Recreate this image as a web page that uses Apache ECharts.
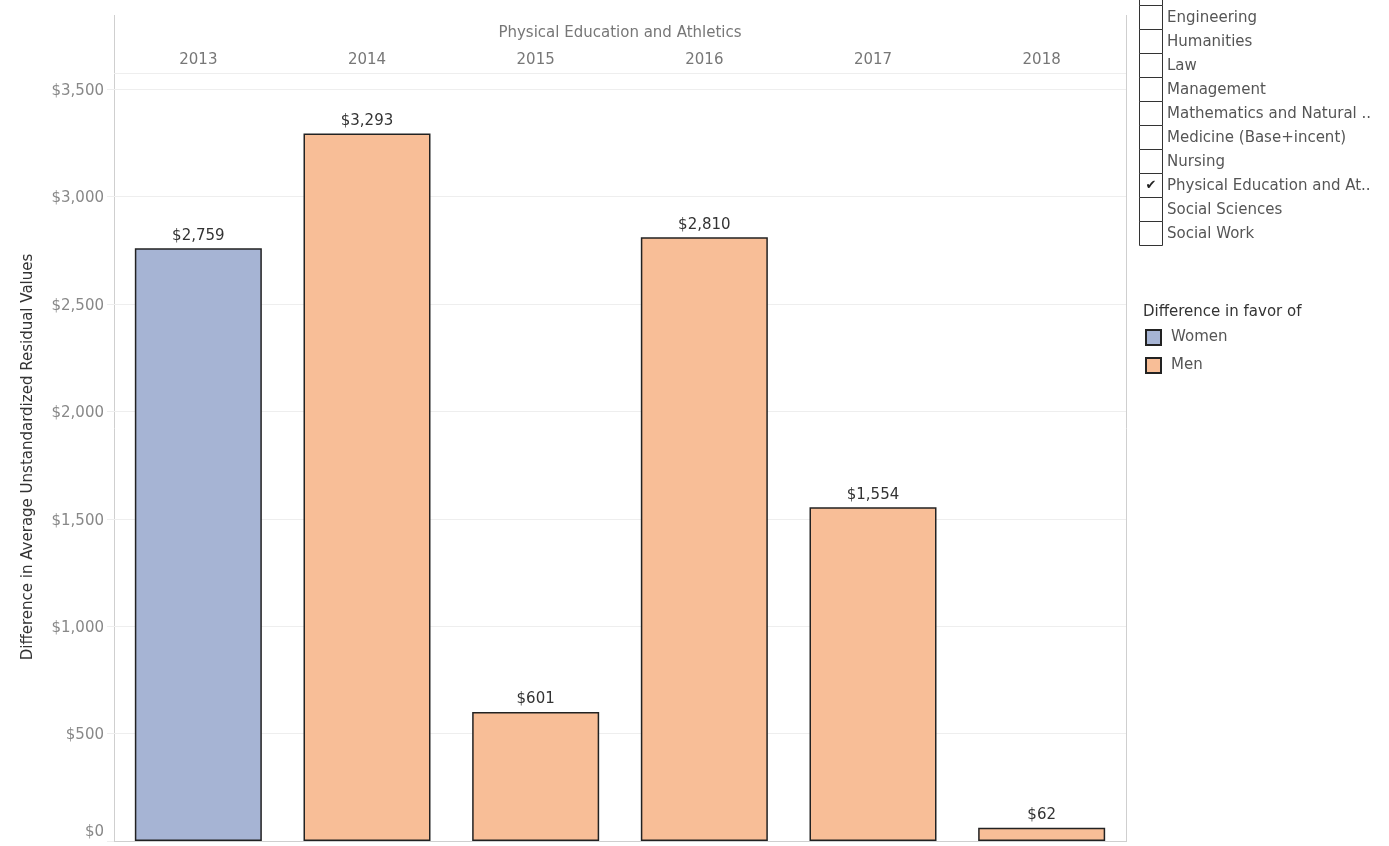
<!DOCTYPE html>
<html>
<head>
<meta charset="utf-8">
<script src="https://cdn.jsdelivr.net/npm/echarts@6/dist/echarts.min.js"></script>
<style>
  html, body { margin: 0; padding: 0; background: #fff; }
  #chart { width: 1389px; height: 846px; }
</style>
</head>
<body>
<div id="chart"></div>
<script>
// years shown in the header
var years = ['2013', '2014', '2015', '2016', '2017', '2018'];
// difference in favor of women / men ('-' = none)
var womenValues = [2759, '-', '-', '-', '-', '-'];
var menValues = ['-', 3293, 601, 2810, 1554, 62];
var yTicks = [0, 500, 1000, 1500, 2000, 2500, 3000, 3500];
// filter list on the right (first one is scrolled off the top)
var filterItems = ['', 'Engineering', 'Humanities', 'Law', 'Management', 'Mathematics and Natural ..',
  'Medicine (Base+incent)', 'Nursing', 'Physical Education and At..', 'Social Sciences', 'Social Work'];
var checkedItem = 'Physical Education and At..';

var FONT = '"DejaVu Sans", sans-serif';
var womenColor = '#a6b4d4';
var menColor = '#f8be97';

function money(v) {
  return '$' + Number(v).toLocaleString('en-US');
}

var myChart = echarts.init(document.getElementById('chart'));

// checkbox list
var graphics = [];
filterItems.forEach(function (item, i) {
  var top = -19 + i * 24;
  graphics.push({
    type: 'rect',
    shape: { x: 1139.5, y: top + 0.5, width: 23, height: 24 },
    style: { fill: '#fff', stroke: '#333', lineWidth: 1 },
    silent: true
  });
  if (item) {
    graphics.push({
      type: 'text',
      x: 1167, y: top + 13,
      style: { text: item, font: '15px ' + FONT, fill: '#555', textVerticalAlign: 'middle' },
      silent: true
    });
  }
  if (item === checkedItem) {
    graphics.push({
      type: 'text',
      x: 1151, y: top + 13,
      style: { text: '\u2714', font: 'bold 13px "DejaVu Sans"', fill: '#222', textAlign: 'center', textVerticalAlign: 'middle' },
      silent: true
    });
  }
});
// header frame lines
graphics.push({ type: 'line', shape: { x1: 114.5, y1: 15, x2: 114.5, y2: 842 }, style: { stroke: '#cfcfcf', lineWidth: 1 }, silent: true });
graphics.push({ type: 'line', shape: { x1: 1126.5, y1: 15, x2: 1126.5, y2: 842 }, style: { stroke: '#cfcfcf', lineWidth: 1 }, silent: true });
graphics.push({
  type: 'text', x: 620, y: 33,
  style: { text: 'Physical Education and Athletics', font: '15px ' + FONT, fill: '#777', textAlign: 'center', textVerticalAlign: 'middle' },
  silent: true
});
graphics.push({
  type: 'text', x: 1143, y: 312,
  style: { text: 'Difference in favor of', font: '15px ' + FONT, fill: '#333', textVerticalAlign: 'middle' },
  silent: true
});

var labelOpt = {
  show: true,
  position: 'top',
  distance: 5,
  color: '#333',
  fontSize: 15,
  fontFamily: FONT,
  formatter: function (p) { return money(p.value); }
};

var option = {
  animation: false,
  textStyle: { fontFamily: FONT },
  grid: { left: 114, right: 263, top: 73, bottom: 5 },
  legend: {
    orient: 'vertical',
    left: 1140, top: 324,
    itemWidth: 15, itemHeight: 15, itemGap: 11,
    icon: 'rect',
    textStyle: { color: '#555', fontSize: 15, fontFamily: FONT, padding: [0, 0, 0, 5] },
    data: ['Women', 'Men']
  },
  xAxis: [{
    type: 'category',
    position: 'top',
    data: years,
    axisLine: { show: true, lineStyle: { color: '#cfcfcf' } },
    axisTick: { show: false },
    axisLabel: { color: '#777', fontSize: 15, fontFamily: FONT, margin: 5 }
  }, {
    type: 'category',
    position: 'bottom',
    data: years,
    axisLine: { show: true, lineStyle: { color: '#cfcfcf' } },
    axisTick: { show: false },
    axisLabel: { show: false }
  }],
  yAxis: {
    type: 'value',
    min: 0,
    max: 3575,
    interval: 500,
    name: 'Difference in Average Unstandardized Residual Values',
    nameLocation: 'middle',
    nameRotate: 90,
    nameGap: 78,
    nameTextStyle: { color: '#333', fontSize: 15, fontFamily: FONT },
    axisLine: { show: false },
    axisTick: { show: true, length: 7, lineStyle: { color: '#eeeeee' } },
    splitLine: { show: true, lineStyle: { color: '#eeeeee' } },
    axisLabel: {
      color: '#888', fontSize: 15, fontFamily: FONT, margin: 10,
      showMaxLabel: false,
      formatter: function (v) {
        if (yTicks.indexOf(v) < 0) return '';
        return v === 0 ? '{z|$0}' : '{a|' + money(v) + '}';
      },
      rich: {
        a: { color: '#888', fontSize: 15, fontFamily: FONT, padding: [4, 0, 0, 0] },
        z: { color: '#888', fontSize: 15, fontFamily: FONT, padding: [0, 0, 18, 0] }
      }
    }
  },
  series: [{
    name: 'Women',
    type: 'bar',
    stack: 'all',
    barWidth: 127,
    data: womenValues,
    itemStyle: { color: womenColor, borderColor: '#222', borderWidth: 1.5 },
    label: labelOpt
  }, {
    name: 'Men',
    type: 'bar',
    stack: 'all',
    barWidth: 127,
    data: menValues,
    itemStyle: { color: menColor, borderColor: '#222', borderWidth: 1.5 },
    label: labelOpt
  }],
  graphic: graphics
};

myChart.setOption(option);
</script>
</body>
</html>
